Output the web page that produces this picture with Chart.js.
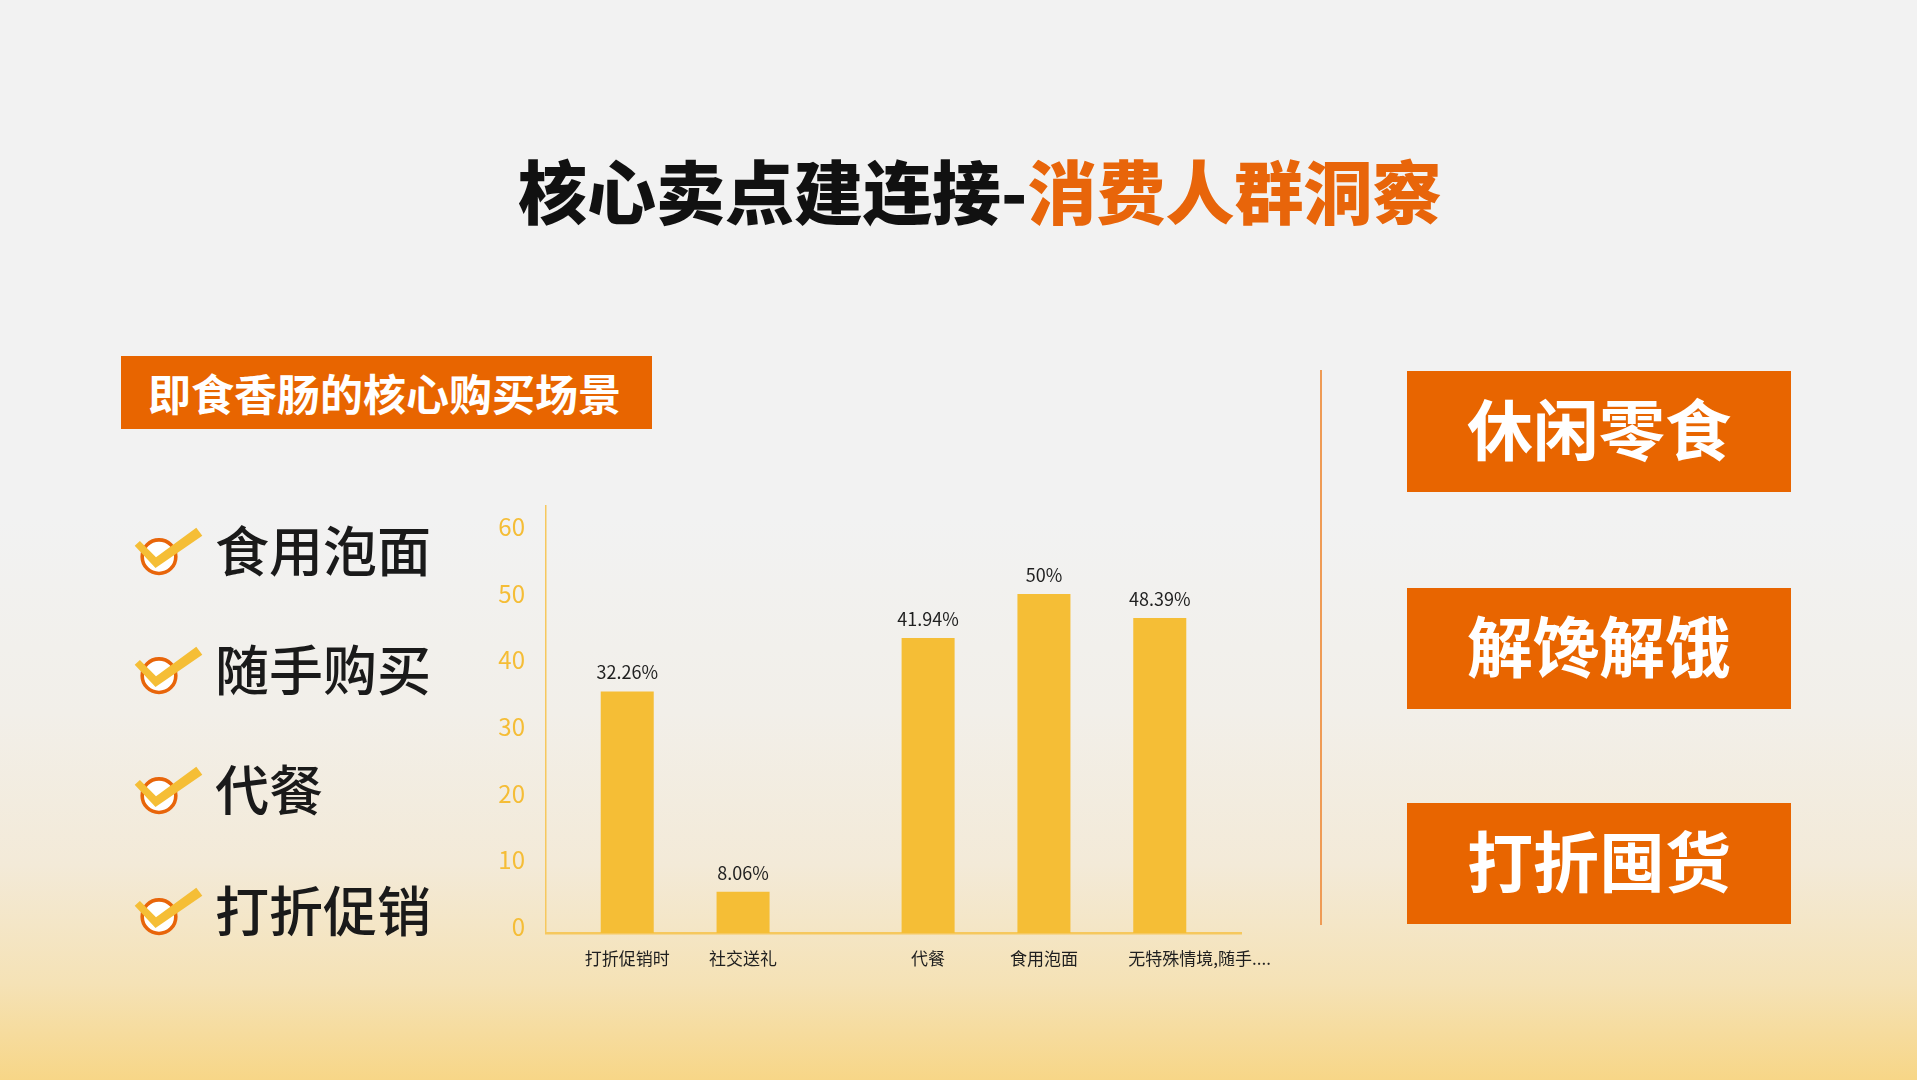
<!DOCTYPE html>
<html lang="zh-CN">
<head>
<meta charset="utf-8">
<title>核心卖点建连接-消费人群洞察</title>
<script src="https://cdn.jsdelivr.net/npm/chart.js@4.4.1/dist/chart.umd.min.js"></script>
<style>
  html, body { margin: 0; padding: 0; }
  body {
    width: 1917px; height: 1080px; position: relative; overflow: hidden;
    font-family: "Noto Sans CJK SC", "Noto Sans", sans-serif;
    background: linear-gradient(to bottom, #f2f2f2 0%, #f2f2f2 48%, #f2efe9 66%, #f3ead8 80%, #f5e2b6 91%, #f7d687 100%);
  }
  .title {
    position: absolute; left: 518px; top: 155px;
    font-size: 69px; line-height: 69px; font-weight: 900; color: #111; white-space: nowrap;
  }
  .title span { color: #e8650a; }
  .tag {
    position: absolute; left: 121px; top: 356px; width: 531px; height: 73px;
    background: #e86500; color: #fff; font-size: 43px; font-weight: 700;
    line-height: 73px; padding-left: 27px; box-sizing: border-box; white-space: nowrap;
  }
  .item { position: absolute; left: 130px; width: 320px; height: 80px; }
  .item svg { position: absolute; left: 0; top: 0; }
  .item .txt {
    position: absolute; left: 85px; top: 2px; font-size: 54px; line-height: 54px;
    font-weight: 500; color: #1a1a1a; white-space: nowrap;
  }
  .divider { position: absolute; left: 1320px; top: 370px; width: 1.5px; height: 555px; background: #ef9b55; }
  .box {
    position: absolute; left: 1407px; width: 384px; height: 121px; background: #e86500;
    color: #fff; font-size: 66px; font-weight: 700; line-height: 111px; text-align: center;
    box-sizing: border-box; padding-bottom: 10px;
  }
  #chartWrap { position: absolute; left: 440px; top: 470px; width: 860px; height: 530px; }
</style>
</head>
<body>
<div class="title">核心卖点建连接-<span>消费人群洞察</span></div>
<div class="tag">即食香肠的核心购买场景</div>
<div id="items"></div>
<div class="divider"></div>
<div id="boxes"></div>
<div id="chartWrap"><canvas id="chart" width="860" height="530"></canvas></div>

<script>
// chart data
const categories  = ['打折促销时', '社交送礼', '', '代餐', '食用泡面', '无特殊情境,随手....'];
const shares      = [36.2, 6.2, null, 44.2, 50.8, 47.2];
const shareLabels = ['32.26%', '8.06%', '', '41.94%', '50%', '48.39%'];
const yTicks      = [0, 10, 20, 30, 40, 50, 60];

// side texts
const checkItems = ['食用泡面', '随手购买', '代餐', '打折促销'];
const insightBoxes = ['休闲零食', '解馋解饿', '打折囤货'];

const BAR = '#f5be36';
const AXIS = '#f6c85e';
const FONT = '"Noto Sans CJK SC", "Noto Sans", sans-serif';

// check list
const itemTops = [520, 639, 759, 880];
const checkSvg =
  '<svg width="80" height="60" viewBox="0 0 80 60">' +
  '<circle cx="29" cy="36.7" r="16.8" fill="#fff" stroke="#e8650a" stroke-width="3.6"/>' +
  '<polygon points="4.7,25.7 9.9,20.9 26,37.3 66.3,7.7 72.3,15.7 25.5,48" fill="#f5be36"/>' +
  '</svg>';
const itemsEl = document.getElementById('items');
checkItems.forEach((t, i) => {
  const d = document.createElement('div');
  d.className = 'item';
  d.style.top = itemTops[i] + 'px';
  d.innerHTML = checkSvg + '<div class="txt">' + t + '</div>';
  itemsEl.appendChild(d);
});

const boxTops = [371, 588, 803];
const boxesEl = document.getElementById('boxes');
insightBoxes.forEach((t, i) => {
  const d = document.createElement('div');
  d.className = 'box';
  d.style.top = boxTops[i] + 'px';
  d.textContent = t;
  boxesEl.appendChild(d);
});

// value and category labels drawn at each bar
const barLabels = {
  id: 'barLabels',
  afterDatasetsDraw(chart) {
    const { ctx, chartArea } = chart;
    const slot = chart.scales.x.width / categories.length;
    ctx.save();
    ctx.fillStyle = '#1f1f1f';
    chart.data.datasets.forEach((ds, di) => {
      chart.getDatasetMeta(di).data.forEach((bar, i) => {
        if (ds.data[i] == null) return;
        ctx.font = '18px ' + FONT;
        ctx.textAlign = 'center';
        ctx.textBaseline = 'alphabetic';
        ctx.fillText(shareLabels[i], bar.x, bar.y - 12);

        // long names hang to the right from the bar's left edge
        ctx.font = '17px ' + FONT;
        ctx.textBaseline = 'middle';
        const w = ctx.measureText(categories[i]).width;
        if (w > slot) {
          ctx.textAlign = 'left';
          ctx.fillText(categories[i], bar.x - bar.width / 2 - 5, chartArea.bottom + 26);
        } else {
          ctx.fillText(categories[i], bar.x, chartArea.bottom + 26);
        }
      });
    });
    ctx.restore();
  }
};

// the first two scenes and the last three sit in separate groups
const laterGroup = shares.map((v, i) => (i >= 3 ? v : null));
const earlyGroup = shares.map((v, i) => (i < 2 ? v : null));

new Chart(document.getElementById('chart'), {
  type: 'bar',
  data: {
    labels: categories,
    datasets: [
      { label: '后三项', data: laterGroup, backgroundColor: BAR, borderWidth: 0 },
      { label: '前两项', data: earlyGroup, backgroundColor: BAR, borderWidth: 0 }
    ]
  },
  options: {
    responsive: false,
    animation: false,
    devicePixelRatio: 1,
    layout: { padding: { top: 36, right: 59, bottom: 0, left: 0 } },
    datasets: { bar: { categoryPercentage: 0.805, barPercentage: 1.137 } },
    plugins: { legend: { display: false }, tooltip: { enabled: false } },
    scales: {
      x: {
        grid: { display: false, drawTicks: false },
        border: { color: AXIS, width: 2.5 },
        ticks: { display: false },
        afterFit: s => { s.height = 67; }
      },
      y: {
        min: 0,
        max: 64,
        grid: { display: false, drawTicks: false },
        border: { color: AXIS, width: 1.5 },
        ticks: {
          stepSize: 10,
          padding: 21,
          labelOffset: -6,
          color: '#f5bd36',
          font: { family: FONT, size: 24 }
        },
        afterBuildTicks: s => { s.ticks = yTicks.map(v => ({ value: v })); },
        afterFit: s => { s.width = 106; }
      }
    }
  },
  plugins: [barLabels]
});
</script>
</body>
</html>
